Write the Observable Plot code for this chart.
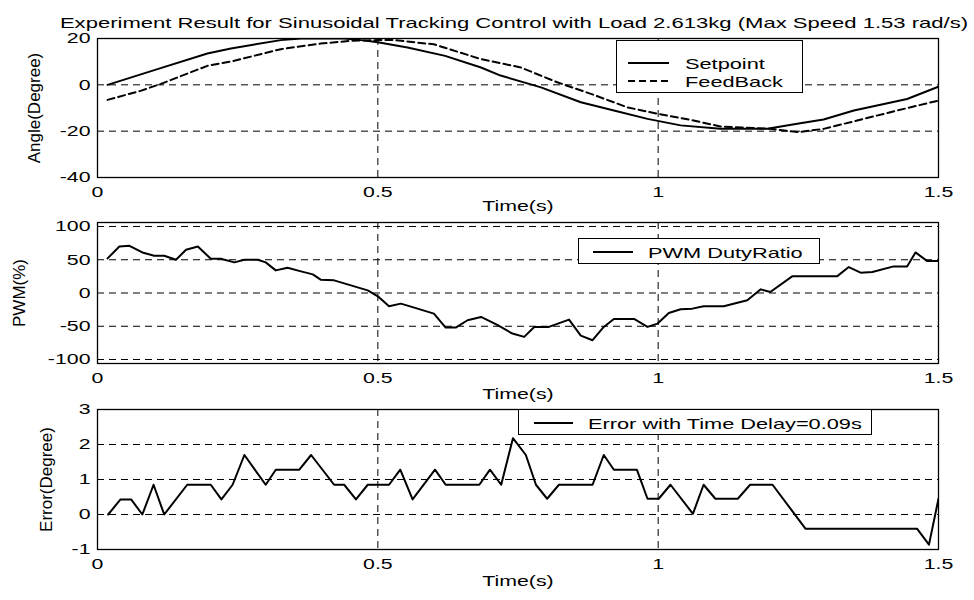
<!DOCTYPE html>
<html><head><meta charset="utf-8">
<script src="https://cdn.jsdelivr.net/npm/d3@7"></script>
<script src="https://cdn.jsdelivr.net/npm/@observablehq/plot@0.6"></script>
<style>
body{margin:0;background:#fff;}
#chart{position:relative;width:974px;height:600px;background:#fff;font-family:"Liberation Sans",Arial,sans-serif;color:#000;overflow:hidden;}
#chart svg{position:absolute;left:0;}
.title{position:absolute;font-size:15px;white-space:nowrap;transform:translate(-50%,-50%) scaleX(1.47);}
.leg{position:absolute;background:#fff;border:1px solid #000;box-sizing:border-box;}
.leg svg{position:absolute;left:0;top:0;}
.legtxt{position:absolute;font-size:15px;white-space:nowrap;transform:translateY(-50%) scaleX(1.45);transform-origin:0 50%;line-height:1;}
</style></head><body><div id="chart"></div>
<script>
// ---- data ----
const titleText = "Experiment Result for Sinusoidal Tracking Control with Load 2.613kg (Max Speed 1.53 rad/s)";
const xTicks = [0, 0.5, 1, 1.5];

const timeSet = [0.018,0.107,0.196,0.238,0.327,0.363,0.44,0.47,0.5,0.553,0.62,0.684,0.719,0.791,0.862,0.921,0.981,1.04,1.111,1.195,1.248,1.295,1.349,1.444,1.5];
const setpoint = [0,6.8,13.5,15.7,19.3,20,20,19.3,18.4,16.1,12.5,7.5,4,-1.1,-7.5,-11.1,-14.7,-17.5,-19,-19,-16.8,-15,-11.1,-6.1,-0.8];

const timeFb = [0.018,0.078,0.113,0.196,0.244,0.327,0.398,0.452,0.5,0.529,0.6,0.684,0.755,0.82,0.88,0.945,0.999,1.063,1.111,1.2,1.25,1.295,1.355,1.426,1.5];
const feedback = [-6.5,-2.5,0.4,8.2,10.4,15.4,17.8,19,19.3,19.3,17.5,11.1,7.5,1.1,-3.9,-9.7,-12.5,-15.4,-18,-19,-20.4,-19,-15.4,-11.1,-6.8];

const timePwm = [0.018,0.039,0.057,0.08,0.101,0.119,0.14,0.158,0.179,0.202,0.22,0.244,0.262,0.286,0.3,0.318,0.339,0.363,0.384,0.398,0.422,0.452,0.482,0.5,0.52,0.541,0.565,0.6,0.621,0.639,0.66,0.684,0.713,0.74,0.761,0.779,0.805,0.841,0.862,0.883,0.903,0.921,0.957,0.981,0.999,1.019,1.04,1.061,1.081,1.117,1.159,1.183,1.2,1.239,1.319,1.34,1.361,1.382,1.42,1.444,1.459,1.48,1.5];
const pwm = [52,70,71,61,56,56,50,65,70,51.5,51.5,46,50,50,46,34,38,32.5,28,20,19,11.5,4,-5,-20,-16,-22,-31,-52,-52,-41,-36,-48,-61,-66,-51,-51,-40,-64,-71,-51,-39,-39,-51,-46,-30,-24.5,-23.5,-20,-20,-11,5.5,1.5,25,25,39,30.5,31.5,40,40,61,48,48];

const timeErr = [0.019,0.041,0.06,0.08,0.1,0.119,0.16,0.202,0.221,0.241,0.262,0.3,0.318,0.36,0.381,0.422,0.44,0.461,0.482,0.52,0.54,0.562,0.602,0.621,0.681,0.7,0.72,0.741,0.764,0.782,0.802,0.823,0.883,0.903,0.921,0.962,0.981,1.001,1.022,1.062,1.081,1.102,1.142,1.164,1.204,1.263,1.462,1.483,1.5];
const err = [0,0.43,0.43,0,0.85,0,0.85,0.85,0.43,0.85,1.7,0.85,1.28,1.28,1.7,0.85,0.85,0.43,0.85,0.85,1.28,0.43,1.28,0.85,0.85,1.28,0.85,2.18,1.7,0.85,0.45,0.85,0.85,1.7,1.28,1.28,0.45,0.45,0.85,0.02,0.85,0.45,0.45,0.85,0.85,-0.41,-0.41,-0.86,0.45];

const yTicks1 = [20, 0, -20, -40];
const yTicks2 = [100, 50, 0, -50, -100];
const yTicks3 = [3, 2, 1, 0, -1];

// ---- build ----
const FONT = '"Liberation Sans", Arial, sans-serif';
const STRETCH = 1.42;
const rows = (ts, vs) => ts.map((t, i) => ({t, v: vs[i]}));
const chart = document.getElementById("chart");

function stretchTexts(svg) {
  svg.querySelectorAll("text").forEach(t => {
    const tr = t.getAttribute("transform") || "";
    if (tr.includes("rotate")) return;
    const L = t.getComputedTextLength();
    if (L > 0) { t.setAttribute("textLength", L * STRETCH); t.setAttribute("lengthAdjust", "spacingAndGlyphs"); }
  });
}

function panel({top, height, marginTop, marginBottom, yDomain, yTicks, lines, yLabel, yLabelDx, xLabelDy}) {
  const svg = Plot.plot({
    width: 974, height, marginLeft: 97, marginRight: 36, marginTop, marginBottom,
    style: {fontFamily: FONT, fontSize: "15px", background: "transparent", color: "black", overflow: "visible"},
    x: {domain: [0, 1.5], ticks: xTicks, tickFormat: d => String(d), tickSize: 0, tickPadding: 9, label: null},
    y: {domain: yDomain, ticks: yTicks, tickFormat: d => String(d), tickSize: 0, tickPadding: 7, label: null},
    marks: [
      Plot.ruleY(yTicks, {stroke: "black", strokeWidth: 1, strokeDasharray: "7,5"}),
      Plot.ruleX(xTicks, {stroke: "black", strokeWidth: 1, strokeDasharray: "7,5"}),
      ...lines.map(l => Plot.line(l.data, {x: "t", y: "v", stroke: "black", strokeWidth: 2, strokeDasharray: l.dash, clip: true})),
      Plot.frame({stroke: "black", strokeWidth: 1.3}),
      Plot.text([yLabel], {text: d => d, frameAnchor: "left", textAnchor: "middle", rotate: -90, dx: yLabelDx, fontSize: 17, fill: "black"}),
      Plot.text(["Time(s)"], {text: d => d, frameAnchor: "bottom", dy: xLabelDy, fontSize: 15, fill: "black"})
    ]
  });
  svg.style.top = top + "px";
  chart.appendChild(svg);
  stretchTexts(svg);
}

function legend({left, top, width, height, lineX0, lineX1, textX, items}) {
  const d = document.createElement("div");
  d.className = "leg";
  Object.assign(d.style, {left: left + "px", top: top + "px", width: width + "px", height: height + "px"});
  const s = d3.create("svg").attr("width", width).attr("height", height);
  items.forEach(it => {
    s.append("line").attr("x1", lineX0).attr("x2", lineX1).attr("y1", it.y).attr("y2", it.y)
      .attr("stroke", "black").attr("stroke-width", 2).attr("stroke-dasharray", it.dash || null);
    const t = document.createElement("div");
    t.className = "legtxt";
    t.textContent = it.label;
    Object.assign(t.style, {left: textX + "px", top: it.y + "px"});
    d.appendChild(t);
  });
  d.insertBefore(s.node(), d.firstChild);
  chart.appendChild(d);
}

panel({top: 0, height: 218, marginTop: 38, marginBottom: 41, yDomain: [-40, 20], yTicks: yTicks1,
  lines: [{data: rows(timeSet, setpoint)}, {data: rows(timeFb, feedback), dash: "7,4"}],
  yLabel: "Angle(Degree)", yLabelDx: -63, xLabelDy: 33});
panel({top: 218, height: 182, marginTop: 4, marginBottom: 37, yDomain: [-106, 106], yTicks: yTicks2,
  lines: [{data: rows(timePwm, pwm)}],
  yLabel: "PWM(%)", yLabelDx: -78, xLabelDy: 35});
panel({top: 400, height: 200, marginTop: 9, marginBottom: 51, yDomain: [-1, 3], yTicks: yTicks3,
  lines: [{data: rows(timeErr, err)}],
  yLabel: "Error(Degree)", yLabelDx: -51, xLabelDy: 36});

const title = document.createElement("div");
title.className = "title";
title.textContent = titleText;
Object.assign(title.style, {left: "514px", top: "22px"});
chart.appendChild(title);

legend({left: 616, top: 40, width: 187, height: 53, lineX0: 11, lineX1: 52, textX: 68,
  items: [{label: "Setpoint", y: 22}, {label: "FeedBack", y: 40, dash: "7,4"}]});
legend({left: 578, top: 238, width: 242, height: 26, lineX0: 14, lineX1: 54, textX: 69,
  items: [{label: "PWM DutyRatio", y: 13}]});
legend({left: 518, top: 409, width: 354, height: 26, lineX0: 15, lineX1: 54, textX: 69,
  items: [{label: "Error with Time Delay=0.09s", y: 13}]});
</script></body></html>
